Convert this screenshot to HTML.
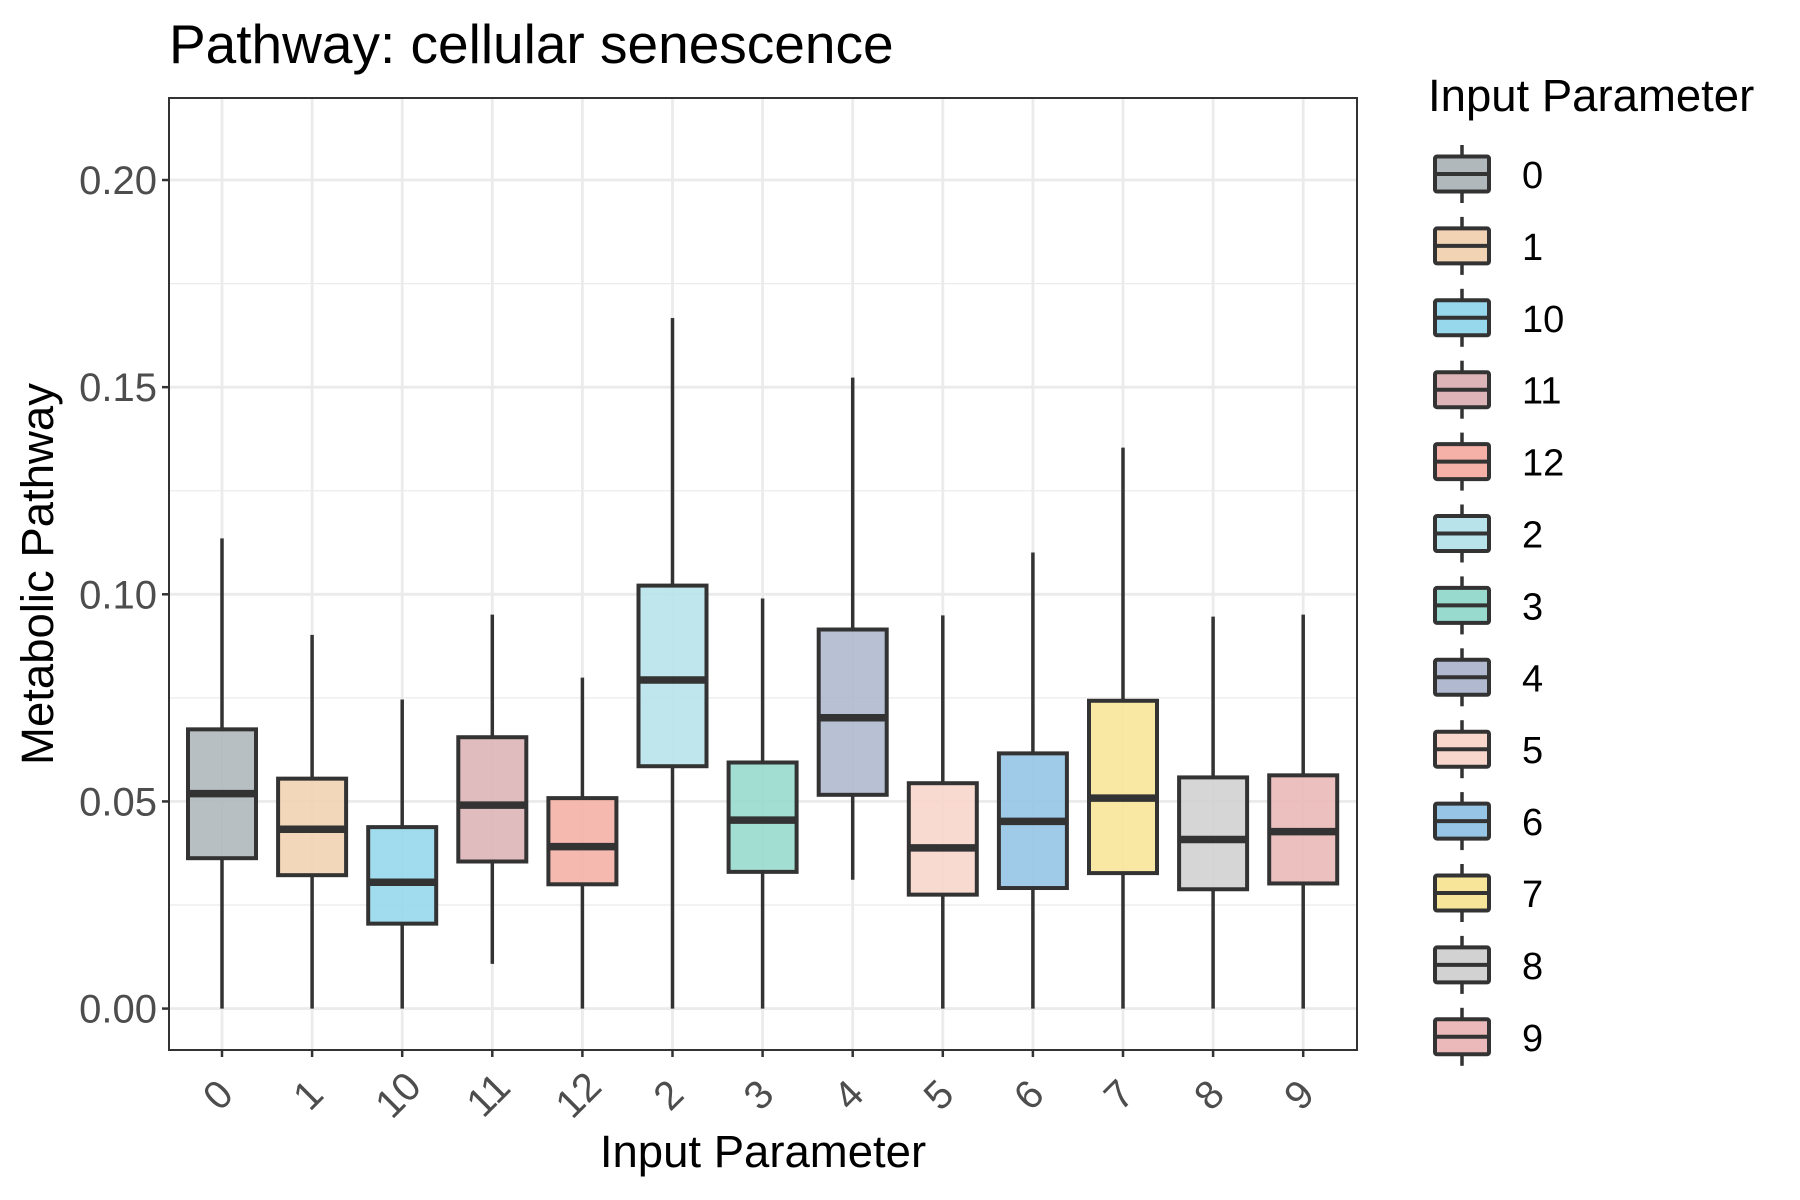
<!DOCTYPE html>
<html><head><meta charset="utf-8">
<style>
html,body{margin:0;padding:0;background:#fff;}
svg{display:block;font-family:"Liberation Sans",Arial,sans-serif;}
</style></head>
<body>
<svg id="chart" width="1800" height="1200" viewBox="0 0 1800 1200">
<rect x="0" y="0" width="1800" height="1200" fill="#fff"/>
<text x="169" y="63" font-size="55" fill="#000">Pathway: cellular senescence</text>
<g id="grid"></g>
<g id="boxes"></g>
<rect x="169" y="98" width="1188" height="952" fill="none" stroke="#333" stroke-width="2"/>
<g id="yaxis"></g>
<g id="xaxis"></g>
<text x="763" y="1167" font-size="45.5" text-anchor="middle" fill="#000">Input Parameter</text>
<text transform="translate(53,574) rotate(-90)" font-size="45.5" text-anchor="middle" fill="#000">Metabolic Pathway</text>
<text x="1428" y="111" font-size="45.5" fill="#000">Input Parameter</text>
<g id="legend"></g>
</svg>
<script>
const categories = ["0","1","10","11","12","2","3","4","5","6","7","8","9"];
const whiskerLow = [0,0,0,0.0108,0,0,0,0.0311,0,0,0,0,0];
const q1 = [0.0363,0.0322,0.0205,0.0355,0.0300,0.0585,0.0330,0.0516,0.0275,0.0291,0.0327,0.0288,0.0302];
const medians = [0.0519,0.0433,0.0305,0.0491,0.0391,0.0793,0.0455,0.0702,0.0388,0.0452,0.0508,0.0408,0.0427];
const q3 = [0.0674,0.0555,0.0438,0.0655,0.0508,0.1021,0.0594,0.0915,0.0544,0.0616,0.0743,0.0558,0.0563];
const whiskerHigh = [0.1135,0.0902,0.0746,0.0951,0.0799,0.1667,0.0990,0.1523,0.0949,0.1101,0.1354,0.0946,0.0951];
const yTicks = [0,0.05,0.10,0.15,0.20];
const yTickLabels = ["0.00","0.05","0.10","0.15","0.20"];
const yMinor = [0.025,0.075,0.125,0.175];
const colors = ["#b0b8bb","#f2d3b3","#97d8ec","#ddb5b8","#f5b1a7","#b9e3eb","#98dacd","#b0b9cf","#f8d6cc","#96c5e6","#f7e59a","#d2d2d2","#ebb9b9"];

const NS="http://www.w3.org/2000/svg";
const PL=169, PR=1357, PT=98, PB=1050;
const Y0=-0.01, Y1=0.2198;
function y(v){return PB-(v-Y0)/(Y1-Y0)*(PB-PT);}
function x(i){return 222+i*90.1;}
function mk(tag,attrs,parent){const e=document.createElementNS(NS,tag);for(const k in attrs)e.setAttribute(k,attrs[k]);parent.appendChild(e);return e;}

const grid=document.getElementById('grid');
yMinor.forEach(v=>{const l=mk('line',{x1:PL,x2:PR,y1:y(v),y2:y(v),stroke:'#ebebeb','stroke-width':1.3},grid);

});
yTicks.forEach(v=>{const l=mk('line',{x1:PL,x2:PR,y1:y(v),y2:y(v),stroke:'#ebebeb','stroke-width':2.8},grid);

});
categories.forEach((c,i)=>{const l=mk('line',{x1:x(i),x2:x(i),y1:PT,y2:PB,stroke:'#ebebeb','stroke-width':2.8},grid);

});

const ya=document.getElementById('yaxis');
yTicks.forEach((v,i)=>{
const t=mk('line',{x1:PL-7,x2:PL,y1:y(v),y2:y(v),stroke:'#333','stroke-width':2.5},ya);


const tx=mk('text',{x:PL-12,y:y(v)+14,'font-size':40,'text-anchor':'end',fill:'#4d4d4d'},ya);
tx.textContent=yTickLabels[i];


});
const xa=document.getElementById('xaxis');
categories.forEach((c,i)=>{
const t=mk('line',{x1:x(i),x2:x(i),y1:PB,y2:PB+7,stroke:'#333','stroke-width':2.5},xa);


const tx=mk('text',{transform:`translate(${x(i)-2},${PB+47}) rotate(-45)`,'font-size':40,'text-anchor':'middle','dominant-baseline':'middle',fill:'#4d4d4d'},xa);
tx.textContent=c;


});

const bx=document.getElementById('boxes');
const bw=68;
categories.forEach((c,i)=>{
const g=mk('g',{},bx);


const cx=x(i);
const w1=mk('line',{x1:cx,x2:cx,y1:y(whiskerHigh[i]),y2:y(q3[i]),stroke:'#333','stroke-width':3.5},g);


const w2=mk('line',{x1:cx,x2:cx,y1:y(q1[i]),y2:y(whiskerLow[i]),stroke:'#333','stroke-width':3.5},g);


const r=mk('rect',{x:cx-bw/2,y:y(q3[i]),width:bw,height:y(q1[i])-y(q3[i]),fill:colors[i],'fill-opacity':0.9,stroke:'#333','stroke-width':4},g);


const m=mk('line',{x1:cx-bw/2,x2:cx+bw/2,y1:y(medians[i]),y2:y(medians[i]),stroke:'#333','stroke-width':7.5},g);


});

const lg=document.getElementById('legend');
categories.forEach((c,i)=>{
const cy=174+i*71.9;
const g=mk('g',{},lg);


mk('line',{x1:1462,x2:1462,y1:cy-29,y2:cy+29,stroke:'#333','stroke-width':3.5},g);
mk('rect',{x:1435,y:cy-17.5,width:54,height:35,rx:2,fill:colors[i],stroke:'#333','stroke-width':4},g);
mk('line',{x1:1435,x2:1489,y1:cy,y2:cy,stroke:'#333','stroke-width':4},g);
const t=mk('text',{x:1522,y:cy+14,'font-size':38,fill:'#000'},g);
t.textContent=c;


});
</script>
</body></html>
